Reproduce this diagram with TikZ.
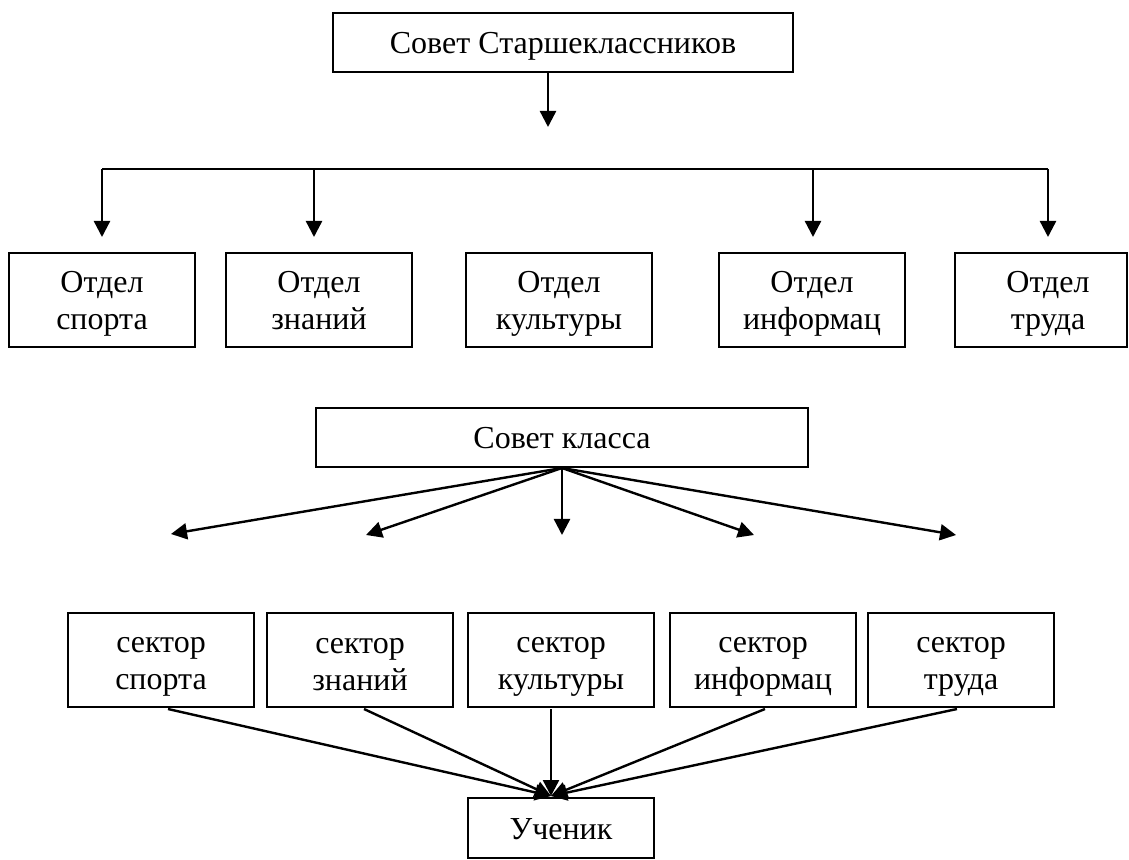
\documentclass[tikz,border=0pt]{standalone}
\usepackage{fontspec}
\setmainfont{Liberation Serif}
\usetikzlibrary{arrows.meta}
\newcommand{\bxs}{\rule[-3pt]{0pt}{17.5pt}}
\begin{document}
\begin{tikzpicture}[x=0.5pt,y=-0.5pt,
  boxline/.style={draw=black, line width=1pt},
  box/.style={boxline, inner sep=0pt, align=center, font=\fontsize{16}{18.5}\selectfont},
  dept/.style={box, minimum width=93pt, minimum height=47pt},
  arr/.style={line width=1.2pt, -{Triangle[length=8pt,width=8pt]}},
  plain/.style={line width=1.2pt}]
\useasboundingbox (0,0) rectangle (1129,860);

% top level
\node[box, minimum width=230pt, minimum height=29.5pt] (S) at (563,42.5) {\bxs Совет Старшеклассников};
\coordinate (tend) at (548,127);
\draw[arr] ([xshift=-7.5pt]S.south) -- (tend);

% departments
\node[dept] (d1) at (102,300) {\bxs Отдел\\\bxs спорта};
\node[dept] (d2) at (319,300) {\bxs Отдел\\\bxs знаний};
\node[dept] (d3) at (559,300) {\bxs Отдел\\\bxs культуры};
\node[dept] (d4) at (812,300) {\bxs Отдел\\\bxs информац};
\node[dept, draw=none] (d5) at (1048,300) {\bxs Отдел\\\bxs труда};
\draw[boxline] (955,253) rectangle (1127,347);

\coordinate (h1) at (102,169);
\coordinate (h2) at (314,169);
\coordinate (h4) at (813,169);
\coordinate (h5) at (1048,169);
\draw[plain] (h1) -- (h5);
\draw[arr, shorten >=7.5pt] (h1) -- (h1 |- d1.north);
\draw[arr, shorten >=7.5pt] (h2) -- (h2 |- d2.north);
\draw[arr, shorten >=7.5pt] (h4) -- (h4 |- d4.north);
\draw[arr, shorten >=7.5pt] (h5) -- (h5 |- d5.north);

% class council
\node[box, minimum width=246pt, minimum height=29.5pt] (K) at (562,437.5) {\bxs Совет класса};
\coordinate (k1) at (171,534);
\coordinate (k2) at (366,535);
\coordinate (k3) at (562,535);
\coordinate (k4) at (754,535);
\coordinate (k5) at (956,535);
\foreach \k in {k1,k2,k3,k4,k5} \draw[arr] (K.south) -- (\k);

% sectors
\node[dept] (s1) at (161,660) {\bxs сектор\\\bxs спорта};
\node[dept] (s2) at (360,660) {\bxs сектор\\\bxs знаний};
\node[dept] (s3) at (561,660) {\bxs сектор\\\bxs культуры};
\node[dept] (s4) at (763,660) {\bxs сектор\\\bxs информац};
\node[dept] (s5) at (961,660) {\bxs сектор\\\bxs труда};

% pupil
\node[box, minimum width=93pt, minimum height=30pt] (U) at (561,828) {\bxs Ученик};
\coordinate (uin) at ([xshift=-5pt,yshift=0.5pt]U.north);
\draw[arr] ([xshift=3.5pt,yshift=-0.5pt]s1.south) -- (uin);
\draw[arr] ([xshift=2pt,yshift=-0.5pt]s2.south) -- (uin);
\draw[arr] ([xshift=-5pt,yshift=-0.5pt]s3.south) -- (uin);
\draw[arr] ([xshift=1pt,yshift=-0.5pt]s4.south) -- (uin);
\draw[arr] ([xshift=-2pt,yshift=-0.5pt]s5.south) -- (uin);
\end{tikzpicture}
\end{document}
